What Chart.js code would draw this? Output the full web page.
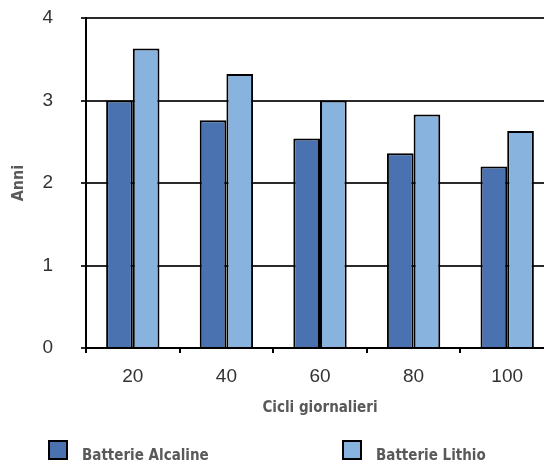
<!DOCTYPE html>
<html>
<head>
<meta charset="utf-8">
<script src="https://cdn.jsdelivr.net/npm/chart.js@4/dist/chart.umd.min.js"></script>
<style>
  html, body { margin: 0; padding: 0; background: #fff; overflow: hidden; }
  #chart { display: block; }
</style>
</head>
<body>
<canvas id="chart" width="556" height="461"></canvas>
<script>
var categories = ["20", "40", "60", "80", "100"];
var alcaline = [3.0, 2.76, 2.54, 2.36, 2.2];
var lithio = [3.63, 3.32, 3.0, 2.83, 2.63];
var seriesNames = ["Batterie Alcaline", "Batterie Lithio"];
var yTicks = [0, 1, 2, 3, 4];

var colors = {
  alcaline: "#4a72b0",
  lithio: "#89b3df",
  grid: "#2a2a2a",
  text: "#333333",
  title: "#595959"
};

var narrow = "'Liberation Sans Narrow', 'DejaVu Sans Condensed', sans-serif";
var regular = "'Liberation Sans', Arial, sans-serif";

// legend at the bottom, drawn by hand so the two items sit where the original has them
var bottomLegend = {
  id: 'bottomLegend',
  afterDraw: function(chart) {
    var c = chart.ctx;
    var items = [
      { x: 48, label: seriesNames[0], color: colors.alcaline },
      { x: 342, label: seriesNames[1], color: colors.lithio }
    ];
    c.save();
    items.forEach(function(it) {
      c.fillStyle = it.color;
      c.fillRect(it.x, 440, 20, 20);
      c.strokeStyle = "#000";
      c.lineWidth = 2;
      c.strokeRect(it.x + 1, 441, 18, 18);
      c.fillStyle = colors.title;
      c.font = "bold 15px " + narrow;
      c.textBaseline = "alphabetic";
      c.textAlign = "left";
      c.fillText(it.label, it.x + 34, 460);
    });
    c.restore();
  }
};

var ctx = document.getElementById('chart').getContext('2d');

new Chart(ctx, {
  type: 'bar',
  data: {
    labels: categories,
    datasets: [{
      label: seriesNames[0],
      data: alcaline,
      backgroundColor: colors.alcaline,
      borderColor: "#000",
      borderWidth: 2
    }, {
      label: seriesNames[1],
      data: lithio,
      backgroundColor: colors.lithio,
      borderColor: "#000",
      borderWidth: 2
    }]
  },
  options: {
    responsive: false,
    animation: false,
    devicePixelRatio: 1,
    categoryPercentage: 0.57,
    barPercentage: 1.0,
    layout: { autoPadding: false, padding: { top: 18, right: 2, bottom: 45, left: 0 } },
    plugins: {
      legend: { display: false },
      tooltip: { enabled: false }
    },
    scales: {
      x: {
        afterFit: function(scale) {
          scale.height = 68;
          scale.paddingLeft = 0;
          scale.paddingRight = 0;
        },
        border: { color: "#000", width: 2 },
        grid: {
          offset: true,
          drawOnChartArea: false,
          drawTicks: true,
          tickLength: 5,
          color: "#000",
          lineWidth: 2
        },
        ticks: {
          color: colors.text,
          padding: 12,
          font: { family: regular, size: 19 }
        },
        title: {
          display: true,
          text: "Cicli giornalieri",
          color: colors.title,
          padding: 0,
          font: { family: narrow, size: 15, weight: 'bold', lineHeight: 1 }
        }
      },
      y: {
        min: 0,
        max: 4,
        afterFit: function(scale) {
          scale.width = 86;
          scale.paddingTop = 0;
          scale.paddingBottom = 0;
        },
        afterBuildTicks: function(scale) {
          scale.ticks = yTicks.map(function(v) { return { value: v }; });
        },
        border: { color: "#000", width: 2 },
        grid: {
          color: colors.grid,
          lineWidth: 2,
          drawTicks: true,
          tickLength: 5
        },
        ticks: {
          color: colors.text,
          padding: 28,
          font: { family: regular, size: 19 }
        },
        title: {
          display: true,
          text: "Anni",
          color: colors.title,
          padding: { top: 11, bottom: 0 },
          font: { family: narrow, size: 16, weight: 'bold', lineHeight: 1 }
        }
      }
    }
  },
  plugins: [bottomLegend]
});
</script>
</body>
</html>
